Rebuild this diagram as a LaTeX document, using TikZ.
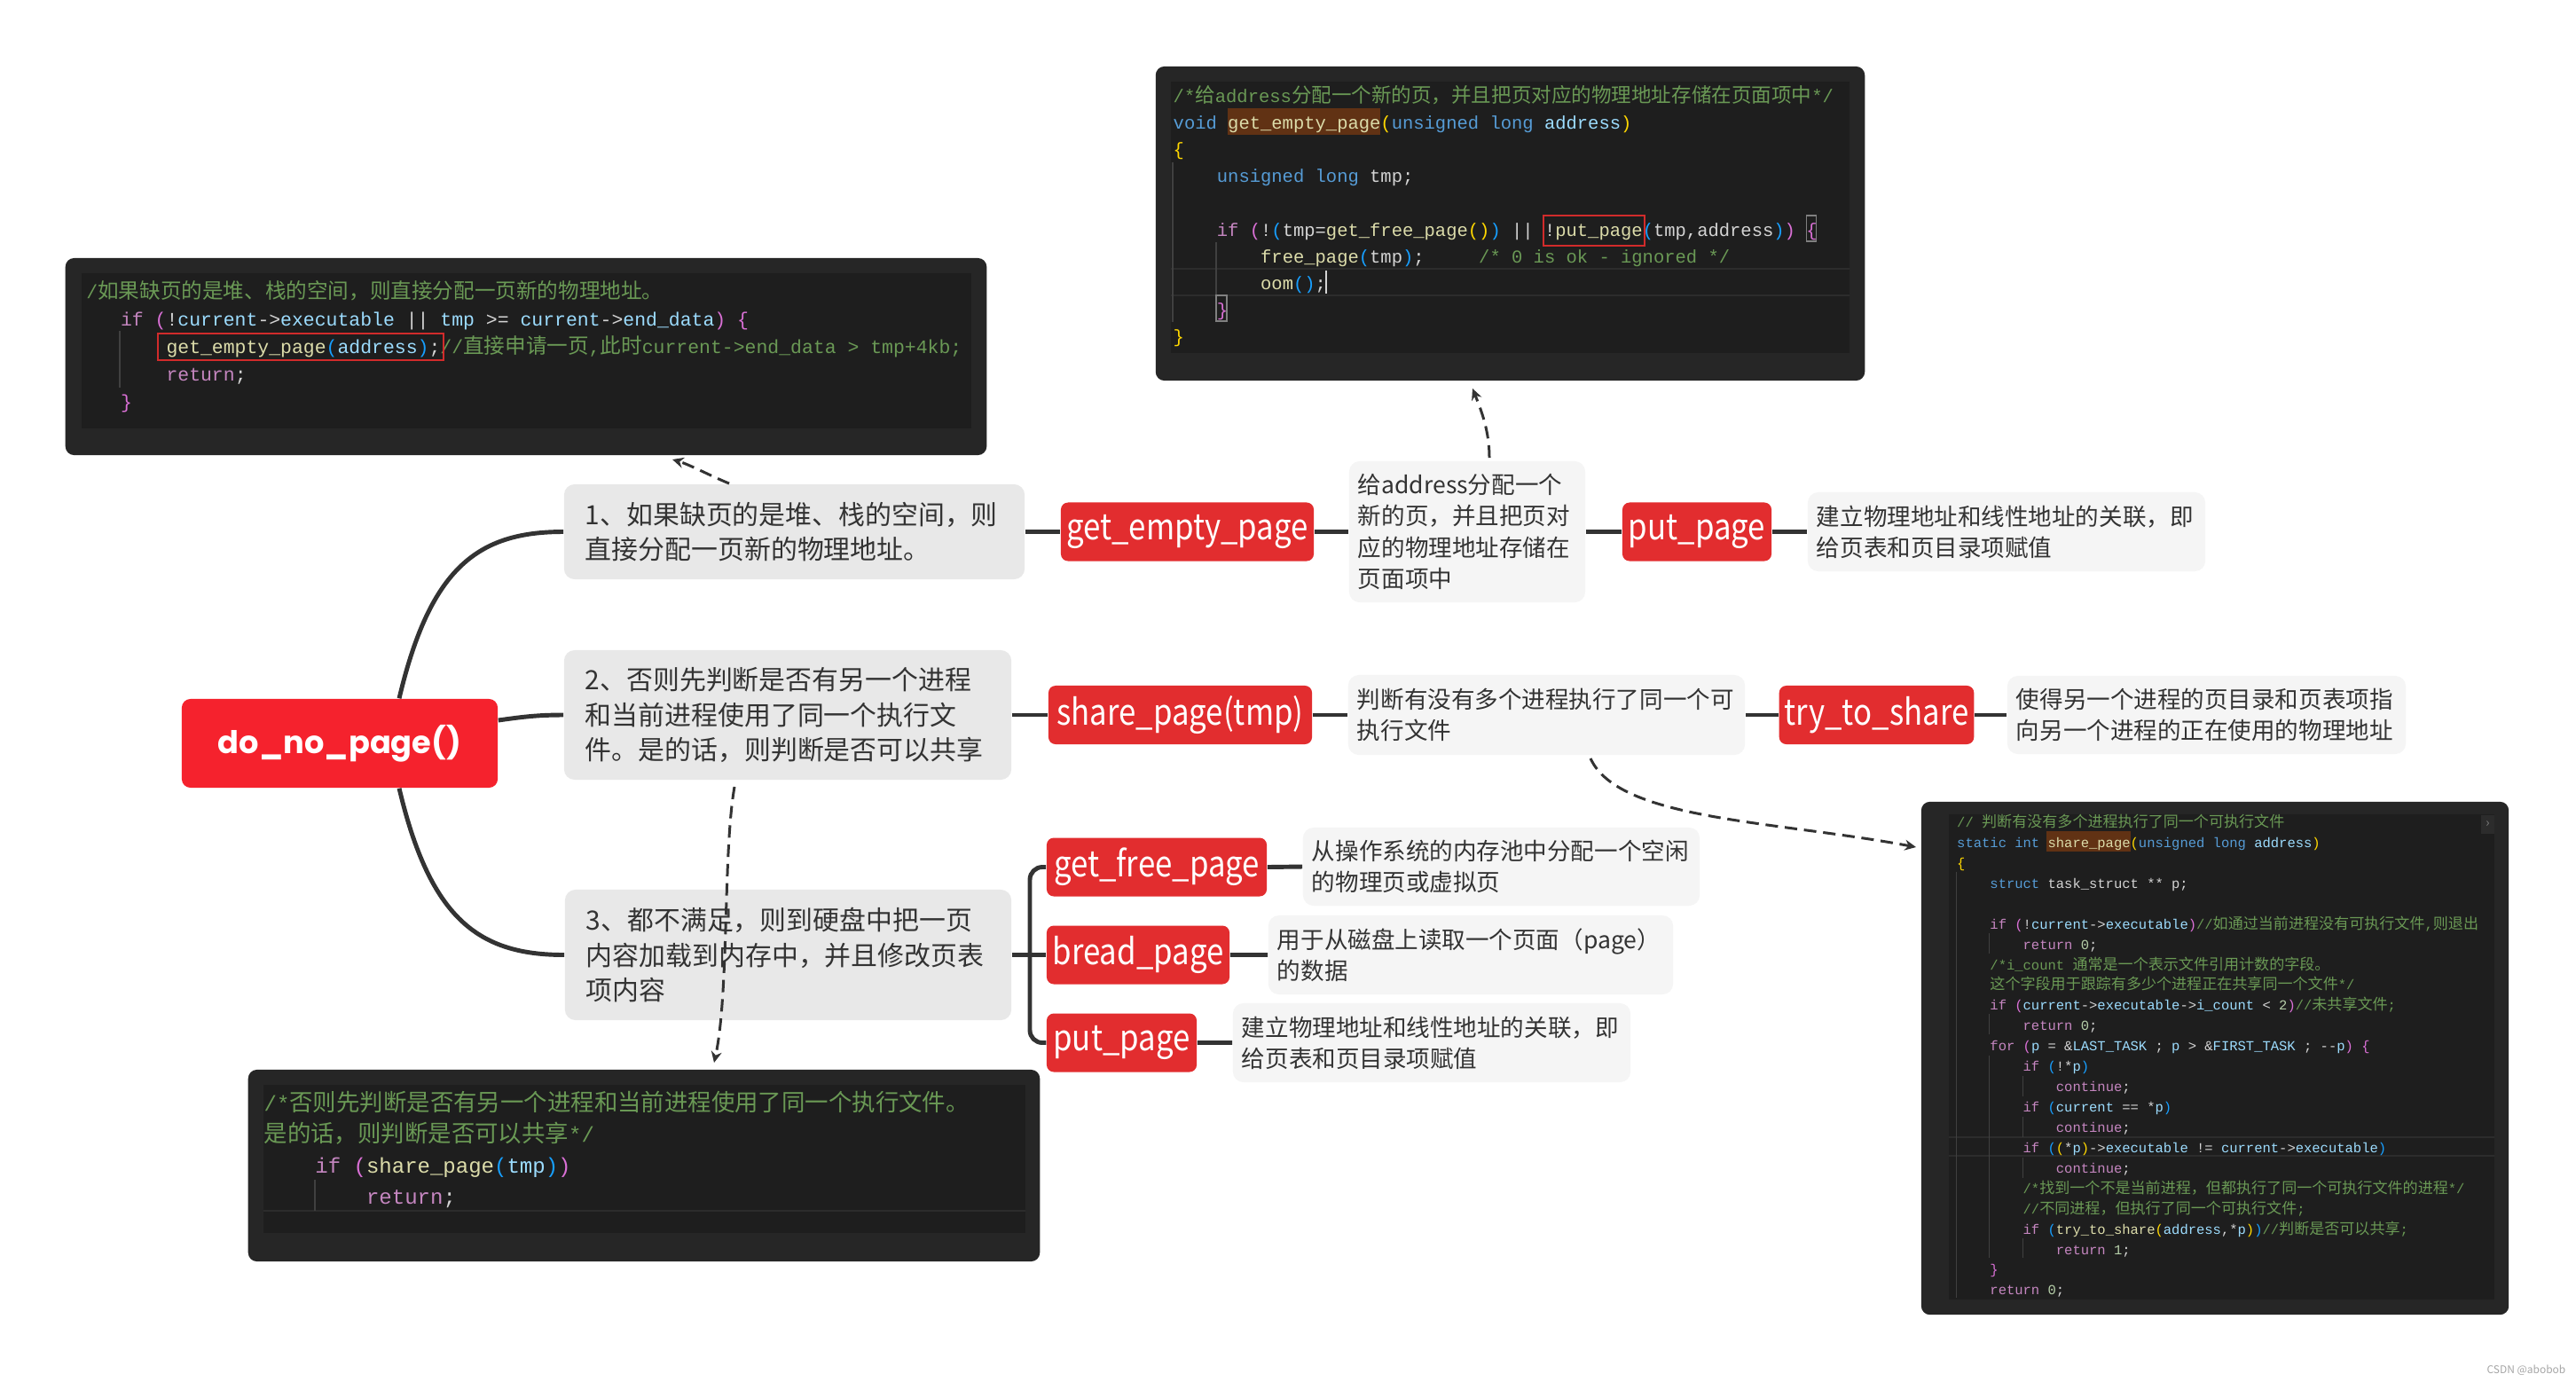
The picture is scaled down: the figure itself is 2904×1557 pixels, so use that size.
\documentclass[tikz,border=0pt]{standalone}
\usepackage{fontspec}
\usetikzlibrary{arrows.meta}
\setmainfont{Noto Sans CJK SC}
\newfontfamily\codecjk{Noto Sans CJK SC}[Scale=1.1]
\newfontfamily\fnfont{Noto Sans CJK SC}[FakeStretch=0.86]
\newfontfamily\codefont{Liberation Mono}
\newfontfamily\titlefont{Poppins}
\definecolor{rootred}{HTML}{F5222D}
\definecolor{fnred}{HTML}{E22D2F}
\definecolor{topicgray}{HTML}{E8E8E8}
\definecolor{notegray}{HTML}{F5F5F5}
\definecolor{ink}{HTML}{333333}
\definecolor{framegray}{HTML}{262626}
\definecolor{panelgray}{HTML}{1E1E1E}
\definecolor{guidegray}{HTML}{404040}
\definecolor{curline}{HTML}{2C2C2C}
\definecolor{vsgreen}{HTML}{6A9955}
\definecolor{vsblue}{HTML}{569CD6}
\definecolor{vspurple}{HTML}{C586C0}
\definecolor{vsyellow}{HTML}{DCDCAA}
\definecolor{vslight}{HTML}{9CDCFE}
\definecolor{vstext}{HTML}{D4D4D4}
\definecolor{vsnum}{HTML}{B5CEA8}
\definecolor{brgold}{HTML}{FFD700}
\definecolor{brpink}{HTML}{DA70D6}
\definecolor{brblue}{HTML}{179FFF}
\definecolor{hlbrown}{HTML}{613214}
\definecolor{hlred}{HTML}{D12B2B}
\newcommand{\cl}[1]{\hbox{#1}}
\newcommand{\lines}[1]{\lineskiplimit=-\maxdimen\vtop{#1}}
\newcommand{\zh}[1]{{\codecjk #1}}
\newcommand{\ind}[1]{\hspace*{#1\fontcharwd\font`0}}
\newcommand{\cm}[1]{\textcolor{vsgreen}{#1}}
\newcommand{\kw}[1]{\textcolor{vsblue}{#1}}
\newcommand{\ct}[1]{\textcolor{vspurple}{#1}}
\newcommand{\fn}[1]{\textcolor{vsyellow}{#1}}
\newcommand{\vr}[1]{\textcolor{vslight}{#1}}
\newcommand{\nm}[1]{\textcolor{vsnum}{#1}}
\newcommand{\bA}[1]{\textcolor{brgold}{#1}}
\newcommand{\bB}[1]{\textcolor{brpink}{#1}}
\newcommand{\bC}[1]{\textcolor{brblue}{#1}}

\begin{document}
\begin{tikzpicture}[x=.01cm,y=-.01cm,>=Stealth,
  root/.style={fill=rootred,text=white,rounded corners=2.8pt,font=\titlefont\bfseries\fontsize{10}{12}\selectfont,minimum width=3.56cm,minimum height=1cm},
  topic/.style={fill=topicgray,text=ink,rounded corners=3.4pt,font=\fontsize{8.5}{11.1}\selectfont,align=left,inner xsep=.24cm,inner ysep=0pt},
  note/.style={fill=notegray,text=ink,rounded corners=3.4pt,font=\fontsize{7.55}{10}\selectfont,align=left,inner xsep=.1cm,inner ysep=0pt},
  fnbox/.style={fill=fnred,text=white,rounded corners=2.3pt,font=\fnfont\fontsize{11.5}{13}\selectfont,minimum height=.66cm,inner xsep=.06cm,inner ysep=0pt},
  window/.style={fill=framegray,rounded corners=2.8pt},
  code/.style={anchor=base west,inner sep=0pt,text=vstext},
  branch/.style={draw=ink,line width=1.4pt},
  link/.style={draw=ink,line width=.85pt,dash pattern=on 4pt off 2.2pt,-{Stealth[length=3.6pt,width=3.4pt]}},
  guide/.style={draw=guidegray,line width=.3pt}]
\path[use as bounding box,fill=white] (0,0) rectangle (2904,1557);

\node[window,minimum width=10.38cm,minimum height=2.22cm] (codeA) at (593,402) {};
\node[window,minimum width=7.99cm,minimum height=3.54cm] (codeB) at (1702.5,252) {};
\node[window,minimum width=8.92cm,minimum height=2.16cm] (codeC) at (726,1314) {};
\node[window,minimum width=6.62cm,minimum height=5.78cm] (codeD) at (2497,1193) {};
\fill[panelgray] (92,308) rectangle (1095,483);
\fill[panelgray] (1320,92) rectangle (2085,398);
\fill[panelgray] (297,1223) rectangle (1156,1390);
\fill[panelgray] (2197,918) rectangle (2812,1465);
\fill[hlbrown] (1384,122) rectangle (1556,152);
\fill[hlbrown] (2307,937) rectangle (2402,960);
\draw[curline] (1320,303) -- (2085,303) (1320,333) -- (2085,333);
\draw[curline] (297,1365) -- (1156,1365);
\draw[curline] (2197,1282) -- (2812,1282) (2197,1303) -- (2812,1303);
\draw[guide] (135,373) -- (135,437);
\draw[guide] (1322,183) -- (1322,363) (1371,273) -- (1371,333);
\draw[guide] (355,1330) -- (355,1365);
\draw[guide] (2205,983) -- (2205,1463) (2242,1052) -- (2242,1075) (2242,1143) -- (2242,1166) (2242,1190) -- (2242,1418);
\draw[guide] (2280,1213) -- (2280,1236) (2280,1259) -- (2280,1282) (2280,1305) -- (2280,1328) (2280,1396) -- (2280,1418);
\draw[gray,line width=.3pt] (2036,243) rectangle (2047,272) (1371,333) rectangle (1383,362);
\fill[curline] (2797,919) rectangle (2812,940);
\node[text=gray,font=\fontsize{4}{4}\selectfont,inner sep=0pt] (scroll) at (2804.5,929.5) {›};

\node[code,font=\codefont\fontsize{6.1}{8.82}\selectfont] (srcA) at (96.7,336) {\lines{
\cl{\cm{/\zh{如果缺页的是堆、栈的空间，则直接分配一页新的物理地址。}}}
\cl{\ind{3}\ct{if} \bB{(}!\vr{current}->\vr{executable} || \vr{tmp} >= \vr{current}->\vr{end\_data}\bB{)} \bB{\{}}
\cl{\ind{7}\fn{get\_empty\_page}\bC{(}\vr{address}\bC{)};\cm{//\zh{直接申请一页},\zh{此时}current->end\_data > tmp+4kb;}}
\cl{\ind{7}\ct{return};}
\cl{\ind{3}\bB{\}}}}};
\node[code,font=\codefont\fontsize{5.83}{8.59}\selectfont] (srcB) at (1322,115) {\lines{
\cl{\cm{/*\zh{给}address\zh{分配一个新的页，并且把页对应的物理地址存储在页面项中}*/}}
\cl{\kw{void} \fn{get\_empty\_page}\bA{(}\kw{unsigned} \kw{long} \vr{address}\bA{)}}
\cl{\bA{\{}}
\cl{\ind{4}\kw{unsigned} \kw{long} tmp;}
\cl{}
\cl{\ind{4}\ct{if} \bB{(}!\bC{(}tmp=\fn{get\_free\_page}\bA{()}\bC{)} || !\fn{put\_page}\bC{(}tmp,address\bC{)}\bB{)} \bB{\{}}
\cl{\ind{8}\fn{free\_page}\bC{(}tmp\bC{)};\ind{5}\cm{/* 0 is ok -\kern0pt{} ignored */}}
\cl{\ind{8}\fn{oom}\bC{()};}
\cl{\ind{4}\bB{\}}}
\cl{\bA{\}}}}};
\node[code,font=\codefont\fontsize{6.83}{9.96}\selectfont] (srcC) at (297,1252) {\lines{
\cl{\cm{/*\zh{否则先判断是否有另一个进程和当前进程使用了同一个执行文件。}}}
\cl{\cm{\zh{是的话，则判断是否可以共享}*/}}
\cl{\ind{4}\ct{if} \bB{(}\fn{share\_page}\bC{(}\vr{tmp}\bC{)}\bB{)}}
\cl{\ind{8}\ct{return};}}};
\node[code,font=\codefont\fontsize{4.41}{6.52}\selectfont] (srcD) at (2205.5,932.5) {\lines{
\cl{\cm{// \zh{判断有没有多个进程执行了同一个可执行文件}}}
\cl{\kw{static} \kw{int} \fn{share\_page}\bA{(}\kw{unsigned} \kw{long} \vr{address}\bA{)}}
\cl{\bA{\{}}
\cl{\ind{4}\kw{struct} task\_struct ** p;}
\cl{}
\cl{\ind{4}\ct{if} \bB{(}!\vr{current}->\vr{executable}\bB{)}\cm{//\zh{如通过当前进程没有可执行文件},\zh{则退出}}}
\cl{\ind{8}\ct{return} \nm{0};}
\cl{\ind{4}\cm{/*i\_count \zh{通常是一个表示文件引用计数的字段。}}}
\cl{\ind{4}\cm{\zh{这个字段用于跟踪有多少个进程正在共享同一个文件}*/}}
\cl{\ind{4}\ct{if} \bB{(}\vr{current}->\vr{executable}->\vr{i\_count} < \nm{2}\bB{)}\cm{//\zh{未共享文件};}}
\cl{\ind{8}\ct{return} \nm{0};}
\cl{\ind{4}\ct{for} \bB{(}\vr{p} = \&\vr{LAST\_TASK} ; \vr{p} > \&\vr{FIRST\_TASK} ; -\kern0pt-\vr{p}\bB{)} \bB{\{}}
\cl{\ind{8}\ct{if} \bC{(}!*\vr{p}\bC{)}}
\cl{\ind{12}\ct{continue};}
\cl{\ind{8}\ct{if} \bC{(}\vr{current} == *\vr{p}\bC{)}}
\cl{\ind{12}\ct{continue};}
\cl{\ind{8}\ct{if} \bC{(}\bA{(}*\vr{p}\bA{)}->\vr{executable} != \vr{current}->\vr{executable}\bC{)}}
\cl{\ind{12}\ct{continue};}
\cl{\ind{8}\cm{/*\zh{找到一个不是当前进程，但都执行了同一个可执行文件的进程}*/}}
\cl{\ind{8}\cm{//\zh{不同进程，但执行了同一个可执行文件};}}
\cl{\ind{8}\ct{if} \bC{(}\fn{try\_to\_share}\bA{(}\vr{address},*\vr{p}\bA{)}\bC{)}\cm{//\zh{判断是否可以共享};}}
\cl{\ind{12}\ct{return} \nm{1};}
\cl{\ind{4}\bB{\}}}
\cl{\ind{4}\ct{return} \nm{0};}}};
\draw[hlred,line width=.45pt] (178,376) rectangle (500,406);
\draw[hlred,line width=.45pt] (1740,243) rectangle (1854,277);
\draw[vstext,line width=.3pt] (1495,305) -- (1495,331);

\node[root] (root) at (383,838) {do\_no\_page()};
\node[topic,text width=4.71cm,minimum height=1.07cm] (t1) at (895.5,599.5) {1、如果缺页的是堆、栈的空间，则\\直接分配一页新的物理地址。};
\node[topic,text width=4.56cm,minimum height=1.46cm] (t2) at (888,806) {2、否则先判断是否有另一个进程\\和当前进程使用了同一个执行文\\件。是的话，则判断是否可以共享};
\node[topic,text width=4.55cm,minimum height=1.47cm] (t3) at (888.5,1076.5) {3、都不满足，则到硬盘中把一页\\内容加载到内存中，并且修改页表\\项内容};
\node[fnbox,minimum width=2.85cm] (f1) at (1338.5,599.5) {get\_empty\_page};
\node[fnbox,minimum width=1.68cm] (f2) at (1913,599.5) {put\_page};
\node[fnbox,minimum width=2.97cm] (f3) at (1330.5,806) {share\_page(tmp)};
\node[fnbox,minimum width=2.13cm] (f4) at (2115.5,806) {try\_to\_share};
\node[fnbox,minimum width=2.48cm] (f5) at (1304,977.5) {get\_free\_page};
\node[fnbox,minimum width=2.06cm] (f6) at (1283,1076.5) {bread\_page};
\node[fnbox,minimum width=1.69cm] (f7) at (1264.5,1175.5) {put\_page};
\node[note,text width=2.46cm,minimum height=1.59cm] (n1) at (1654,599.5) {给address分配一个\\新的页，并且把页对\\应的物理地址存储在\\页面项中};
\node[note,text width=4.28cm,minimum height=.89cm] (n2) at (2262,599.5) {建立物理地址和线性地址的关联，即\\给页表和页目录项赋值};
\node[note,text width=4.27cm,minimum height=.9cm] (n3) at (1743.5,806) {判断有没有多个进程执行了同一个可\\执行文件};
\node[note,text width=4.29cm,minimum height=.88cm] (n4) at (2487.5,806) {使得另一个进程的页目录和页表项指\\向另一个进程的正在使用的物理地址};
\node[note,text width=4.27cm,minimum height=.88cm] (n5) at (1692.5,977) {从操作系统的内存池中分配一个空闲\\的物理页或虚拟页};
\node[note,text width=4.36cm,minimum height=.89cm] (n6) at (1658,1076.5) {用于从磁盘上读取一个页面（page）\\的数据};
\node[note,text width=4.28cm,minimum height=.89cm] (n7) at (1614,1175.5) {建立物理地址和线性地址的关联，即\\给页表和页目录项赋值};
\node[text=gray!70,font=\fontsize{3.4}{4}\selectfont,anchor=east,inner sep=0pt] (mark) at (2893,1545) {CSDN @abobob};

\draw[branch] ([xshift=.67cm]root.north) .. controls +(35,-148) and +(-96,0) .. (t1.west);
\draw[branch] ([yshift=.26cm]root.east) to[out=8,in=180] (t2.west);
\draw[branch] ([xshift=.67cm]root.south) .. controls +(35,148) and +(-96,0) .. (t3.west);
\draw[branch] (t1.east) -- (f1.west) (f1.east) -- (n1.west) (n1.east) -- (f2.west) (f2.east) -- (n2.west);
\draw[branch] (t2.east) -- (f3.west) (f3.east) -- (n3.west) (n3.east) -- (f4.west) (f4.east) -- (n4.west);
\coordinate (fork) at (1161,1076.5);
\draw[branch] (t3.east) -- (f6.west);
\draw[branch,rounded corners=4pt] (f5.west) -| (fork) |- (f7.west);
\draw[branch] (f5.east) -- (n5.west) (f6.east) -- (n6.west) (f7.east) -- (n7.west);

\coordinate (a1) at (822,545);
\coordinate (b1) at (758,518);
\coordinate (a2) at (1679,516);
\coordinate (b2) at (1660,438);
\coordinate (a3) at (1793,855);
\coordinate (b3) at (2160,955);
\coordinate (a4) at (828,887);
\coordinate (b4) at (805,1198);
\draw[link] (a1) .. controls +(-20,-8) and +(20,6) .. (b1);
\draw[link] (a2) .. controls +(0,-30) and +(10,25) .. (b2);
\draw[link] (a3) .. controls (1825,925) and (2000,925) .. (b3);
\draw[link] (a4) .. controls (815,960) and (822,1120) .. (b4);
\end{tikzpicture}
\end{document}
